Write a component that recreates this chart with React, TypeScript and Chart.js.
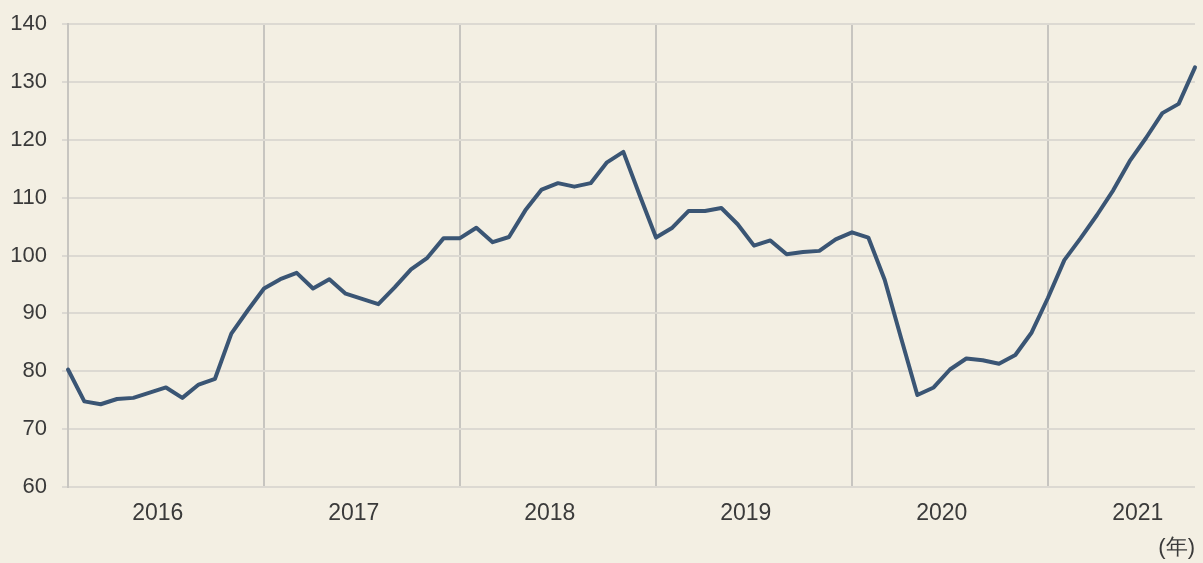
import { useEffect, useRef } from 'react';
import { Chart, registerables } from 'chart.js';

Chart.register(...registerables);

const yearLabels = ['2016', '2017', '2018', '2019', '2020', '2021'];
const monthsPerYear = 12;
const values = [
  80.3, 74.8, 74.3, 75.2, 75.4, 76.3, 77.2, 75.4, 77.7, 78.7, 86.5, 90.5,
  94.3, 95.9, 97.0, 94.3, 95.9, 93.4, 92.5, 91.6, 94.5, 97.6, 99.6, 103.0,
  103.0, 104.8, 102.3, 103.2, 107.8, 111.4, 112.5, 111.9, 112.5, 116.1, 117.9, 110.4,
  103.1, 104.8, 107.7, 107.7, 108.2, 105.4, 101.7, 102.6, 100.2, 100.6, 100.8, 102.8,
  104.0, 103.1, 95.8, 85.8, 75.9, 77.2, 80.3, 82.2, 81.9, 81.3, 82.8, 86.7,
  92.7, 99.2, 103.0, 107.0, 111.3, 116.3, 120.3, 124.6, 126.2, 132.5,
];
const yMin = 60;
const yMax = 140;
const yStep = 10;
const unitLabel = '(年)';

export default function App() {
  const ref = useRef<HTMLCanvasElement>(null);

  useEffect(() => {
    document.body.style.margin = '0';
    const gridTicks = yearLabels.map((_, k) => k * monthsPerYear);
    const labelTicks = yearLabels.map((_, k) => k * monthsPerYear + (monthsPerYear - 1) / 2);
    const family = "'Liberation Sans', Arial, sans-serif";

    const chart = new Chart(ref.current!, {
      type: 'line',
      data: {
        datasets: [
          {
            data: values.map((v, i) => ({ x: i, y: v })),
            borderColor: '#3a5574',
            borderWidth: 4,
            pointRadius: 0,
            tension: 0,
            fill: false,
            clip: false as any,
            borderJoinStyle: 'round',
            borderCapStyle: 'round',
          },
        ],
      },
      options: {
        animation: false,
        responsive: true,
        maintainAspectRatio: false,
        layout: { padding: { top: 24, right: 8, left: 0, bottom: 0 } },
        plugins: { legend: { display: false }, tooltip: { enabled: false } },
        scales: {
          x: {
            type: 'linear',
            min: 0,
            max: values.length - 1,
            afterBuildTicks: (scale: any) => {
              scale.ticks = [...gridTicks, ...labelTicks]
                .sort((a, b) => a - b)
                .map((v) => ({ value: v }));
            },
            afterFit: (scale: any) => {
              scale.height = 76;
              scale.paddingLeft = 0;
              scale.paddingRight = 0;
            },
            grid: {
              drawTicks: false,
              lineWidth: 2,
              color: (ctx: any) =>
                ctx.tick && gridTicks.includes(ctx.tick.value) ? '#c7c5c0' : 'rgba(0,0,0,0)',
            },
            border: { display: false },
            ticks: {
              autoSkip: false,
              maxRotation: 0,
              padding: 13,
              color: '#3a3a3a',
              font: { family, size: 23 },
              callback: (v: any) => {
                const idx = labelTicks.indexOf(Number(v));
                return idx >= 0 ? yearLabels[idx] : '';
              },
            },
            title: {
              display: true,
              text: unitLabel,
              align: 'end',
              color: '#3a3a3a',
              font: { family, size: 22 },
              padding: { top: 0, bottom: 1.5 },
            },
          },
          y: {
            min: yMin,
            max: yMax,
            afterFit: (scale: any) => {
              scale.width = 68;
              scale.paddingTop = 0;
              scale.paddingBottom = 0;
            },
            ticks: {
              stepSize: yStep,
              padding: 15,
              color: '#3a3a3a',
              font: { family, size: 22 },
            },
            grid: {
              color: '#dcd9d2',
              lineWidth: 2,
              tickLength: 6,
              tickColor: '#dcd9d2',
            },
            border: { color: '#c7c5c0', width: 2 },
          },
        },
      },
    });
    return () => chart.destroy();
  }, []);

  return (
    <div style={{ position: 'relative', width: 1203, height: 563, background: '#f3efe3' }}>
      <canvas ref={ref} />
    </div>
  );
}
